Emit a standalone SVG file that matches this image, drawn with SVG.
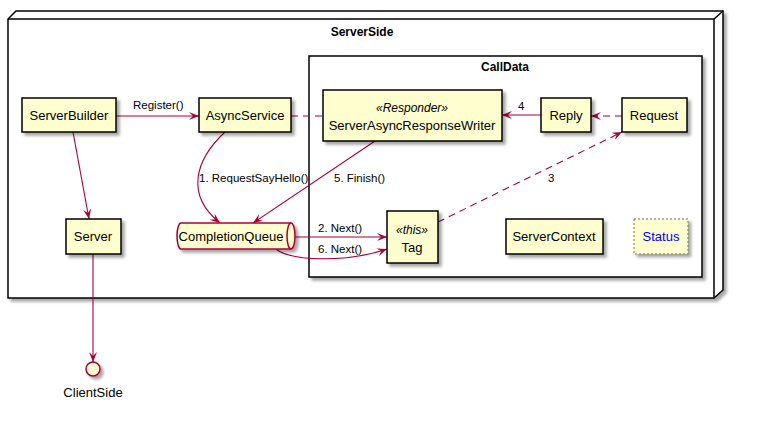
<svg xmlns="http://www.w3.org/2000/svg" width="761" height="437" viewBox="0 0 761 437">
<style>
text{font-family:"Liberation Sans",Arial,sans-serif;fill:#000}
.t{font-size:13px;text-anchor:middle}
.ttl{font-size:12px;font-weight:bold;text-anchor:middle}
.lbl{font-size:11.5px}
.st{font-size:12px;font-style:italic;text-anchor:middle}
.box{fill:#FEFECE;stroke:#000;stroke-width:1.5}
.c{fill:none;stroke:#A80036;stroke-width:1.1}
.d{stroke-dasharray:7,5}
.frame{fill:#fff;stroke:#000;stroke-width:1.5}
</style>
<defs>
<filter id="sh" x="-20%" y="-20%" width="150%" height="160%">
<feDropShadow dx="3" dy="3" stdDeviation="1.5" flood-color="#000" flood-opacity="0.35"/>
</filter>
<marker id="ar" viewBox="0 0 10 8" refX="10" refY="4" markerWidth="10" markerHeight="8" markerUnits="userSpaceOnUse" orient="auto">
<path d="M0,0 L10,4 L0,8 L4,4 Z" fill="#A80036"/>
</marker>
</defs>
<g id="ServerSide">
<path d="M8,19 L16,11 L723,11 L723,290 L714,298 L8,298 Z" class="frame" filter="url(#sh)"/>
<path d="M8,19 L714,19 L723,11 M714,19 L714,298" fill="none" stroke="#000" stroke-width="1.5"/>
<text x="362" y="36" class="ttl">ServerSide</text>
</g>
<g id="CallData">
<rect x="309" y="56" width="393" height="221" class="frame" filter="url(#sh)"/>
<text x="505" y="71" class="ttl">CallData</text>
</g>
<g id="connectors">
<path d="M116,116 L199,116" class="c" marker-end="url(#ar)"/>
<text x="133" y="109" class="lbl">Register()</text>
<path d="M291,116 L323,116" class="c d"/>
<path d="M541,115 L502,115" class="c" marker-end="url(#ar)"/>
<text x="518" y="110" class="lbl">4</text>
<path d="M622,116 L591,116" class="c d" marker-end="url(#ar)"/>
<path d="M73,132 L89,219" class="c" marker-end="url(#ar)"/>
<path d="M93,254 L93,362" class="c" marker-end="url(#ar)"/>
<path d="M225,132 C195,160 185,195 220,223" class="c" marker-end="url(#ar)"/>
<text x="199" y="182" class="lbl">1. RequestSayHello()</text>
<path d="M375,141 L253,223" class="c" marker-end="url(#ar)"/>
<text x="334" y="182" class="lbl">5. Finish()</text>
<path d="M295,237 L387,237" class="c" marker-end="url(#ar)"/>
<text x="318" y="232" class="lbl">2. Next()</text>
<path d="M276,249 C292,262 350,262 387,249" class="c" marker-end="url(#ar)"/>
<text x="318" y="253" class="lbl">6. Next()</text>
<path d="M438,222 L622,132" class="c d" marker-end="url(#ar)"/>
<text x="548" y="182" class="lbl">3</text>
</g>
<g id="ServerBuilder">
<rect x="22" y="98" width="94" height="34" class="box" filter="url(#sh)"/>
<text x="69" y="120" class="t">ServerBuilder</text>
</g>
<g id="AsyncService">
<rect x="199" y="98" width="92" height="34" class="box" filter="url(#sh)"/>
<text x="245" y="120" class="t">AsyncService</text>
</g>
<g id="ServerAsyncResponseWriter">
<rect x="323" y="90" width="179" height="51" class="box" filter="url(#sh)"/>
<text x="412" y="112" class="st">«Responder»</text>
<text x="412" y="130" class="t">ServerAsyncResponseWriter</text>
</g>
<g id="Reply">
<rect x="541" y="98" width="50" height="34" class="box" filter="url(#sh)"/>
<text x="566" y="120" class="t">Reply</text>
</g>
<g id="Request">
<rect x="622" y="98" width="65" height="34" class="box" filter="url(#sh)"/>
<text x="654" y="120" class="t">Request</text>
</g>
<g id="Server">
<rect x="66" y="219" width="55" height="35" class="box" filter="url(#sh)"/>
<text x="93" y="241" class="t">Server</text>
</g>
<g id="CompletionQueue">
<path d="M181,223 L291,223 A4,13 0 0 1 291,249 L181,249 A4,13 0 0 1 181,223 Z" fill="#FEFECE" stroke="#A80036" stroke-width="1.5" filter="url(#sh)"/>
<path d="M291,223 A4,13 0 0 0 291,249" fill="none" stroke="#A80036" stroke-width="1.5"/>
<text x="231" y="241" class="t">CompletionQueue</text>
</g>
<g id="Tag">
<rect x="387" y="211" width="51" height="52" class="box" filter="url(#sh)"/>
<text x="412" y="234" class="st">«this»</text>
<text x="412" y="252" class="t">Tag</text>
</g>
<g id="ServerContext">
<rect x="506" y="219" width="97" height="35" class="box" filter="url(#sh)"/>
<text x="554" y="241" class="t">ServerContext</text>
</g>
<g id="Status">
<rect x="634" y="219" width="54" height="35" fill="#FEFECE" stroke="#777744" stroke-width="1" stroke-dasharray="2,2" filter="url(#sh)"/>
<text x="661" y="241" class="t" style="fill:#0000FF">Status</text>
</g>
<g id="ClientSide">
<circle cx="93" cy="369" r="7" fill="#FEFECE" stroke="#A80036" stroke-width="1.5" filter="url(#sh)"/>
<text x="93" y="397" class="t">ClientSide</text>
</g>
</svg>
